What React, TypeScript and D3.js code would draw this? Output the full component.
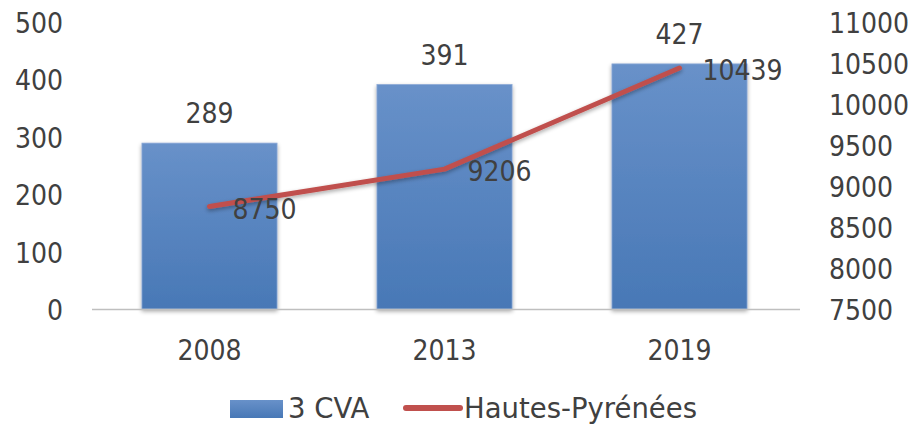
import React from "react";
import * as d3 from "d3";

const categories = ["2008", "2013", "2019"];
const cvaValues = [289, 391, 427];
const hpValues = [8750, 9206, 10439];
const leftTicks = [0, 100, 200, 300, 400, 500];
const rightTicks = [7500, 8000, 8500, 9000, 9500, 10000, 10500, 11000];
const seriesNames = ["3 CVA", "Hautes-Pyrénées"];

const W = 916, H = 425;
const plotLeft = 92, plotRight = 797, plotTop = 22, plotBottom = 309;
const NUMFONT = "'DejaVu Sans Condensed', 'DejaVu Sans', sans-serif";
const FONT = "'DejaVu Sans', sans-serif";
const TXT = "#404040";

export default function App() {
  const x = d3.scaleBand<string>().domain(categories).range([plotLeft, plotRight]).paddingInner(0.425).paddingOuter(0.2125);
  const yL = d3.scaleLinear().domain([0, 500]).range([plotBottom, plotTop]);
  const yR = d3.scaleLinear().domain([7500, 11000]).range([plotBottom, plotTop]);
  const cx = (c: string) => x(c)! + x.bandwidth() / 2;
  const line = d3.line<number>().x((_, i) => cx(categories[i])).y((d) => yR(d));
  const fs = 28;
  const numProps = { fontFamily: NUMFONT, fontStretch: "condensed", fontSize: fs, fill: TXT } as any;
  return (
    <svg width={W} height={H} style={{ position: "absolute", left: 0, top: 0, background: "#fff" }}>
      <defs>
        <linearGradient id="barg" x1="0" y1="0" x2="0" y2="1">
          <stop offset="0" stopColor="#6891C9" />
          <stop offset="1" stopColor="#4878B6" />
        </linearGradient>
        <filter id="sh" x="-20%" y="-20%" width="140%" height="140%">
          <feGaussianBlur in="SourceAlpha" stdDeviation="2" />
          <feOffset dx="0" dy="2" result="b" />
          <feComponentTransfer><feFuncA type="linear" slope="0.35" /></feComponentTransfer>
          <feMerge><feMergeNode /><feMergeNode in="SourceGraphic" /></feMerge>
        </filter>
      </defs>
      {leftTicks.map((t) => (
        <text key={"l" + t} x={63} y={yL(t) + 11} textAnchor="end" {...numProps}>{t}</text>
      ))}
      {rightTicks.map((t) => (
        <text key={"r" + t} x={829} y={yR(t) + 11} textAnchor="start" {...numProps}>{t}</text>
      ))}
      {categories.map((c, i) => (
        <rect key={c} x={x(c)} y={yL(cvaValues[i])} width={x.bandwidth()} height={plotBottom - yL(cvaValues[i])}
          fill="url(#barg)" stroke="#8DAAD6" strokeWidth={0.8} filter="url(#sh)" />
      ))}
      <line x1={plotLeft} x2={plotRight + 3} y1={plotBottom + 0.5} y2={plotBottom + 0.5} stroke="#BFBFBF" strokeWidth={1.5} />
      {categories.map((c) => (
        <text key={"c" + c} x={cx(c)} y={360} textAnchor="middle" {...numProps}>{c}</text>
      ))}
      <path d={line(hpValues)!} fill="none" stroke="#C0504D" strokeWidth={5} strokeLinecap="round" strokeLinejoin="round" filter="url(#sh)" />
      {categories.map((c, i) => (
        <text key={"bl" + c} x={cx(c)} y={yL(cvaValues[i]) - 20} textAnchor="middle" {...numProps}>{cvaValues[i]}</text>
      ))}
      {categories.map((c, i) => (
        <text key={"ll" + c} x={cx(c) + 23} y={yR(hpValues[i]) + 12} textAnchor="start" {...numProps}>{hpValues[i]}</text>
      ))}
      <rect x={230} y={400} width={53} height={18} fill="url(#barg)" />
      <text x={288} y={418} fontFamily={FONT} fontSize={27.5} fill={TXT}>{seriesNames[0]}</text>
      <line x1={406} x2={460} y1={408} y2={408} stroke="#C0504D" strokeWidth={6} strokeLinecap="round" />
      <text x={464} y={418} fontFamily={FONT} fontSize={27.5} fill={TXT}>{seriesNames[1]}</text>
    </svg>
  );
}
